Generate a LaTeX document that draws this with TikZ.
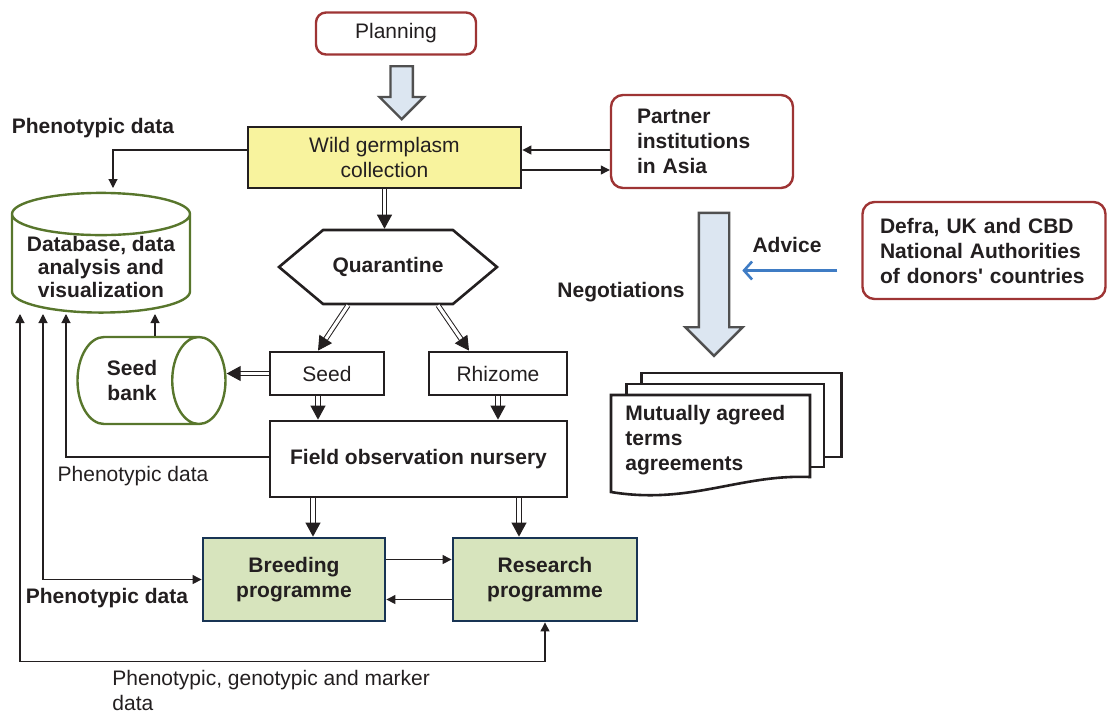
\documentclass[tikz,border=0pt]{standalone}
\usepackage{fontspec}
\setmainfont{Liberation Sans}
\usepackage{xcolor}
\usetikzlibrary{arrows.meta, positioning, calc, shapes.geometric, shapes.symbols, shapes.arrows}

\definecolor{boxred}{RGB}{158,52,52}
\definecolor{wildyellow}{RGB}{248,243,158}
\definecolor{progfill}{RGB}{215,228,189}
\definecolor{progedge}{RGB}{24,52,84}
\definecolor{cylgreen}{RGB}{88,118,44}
\definecolor{blockfill}{RGB}{220,230,241}
\definecolor{blockedge}{RGB}{80,80,80}
\definecolor{advblue}{RGB}{63,124,196}
\definecolor{ink}{RGB}{35,31,32}

\begin{document}
\begin{tikzpicture}[
  x=0.5pt, y=-0.5pt,
  every node/.style={font=\fontsize{10.5}{12.5}\selectfont, text=ink, inner sep=2pt},
  bold/.style={font=\fontsize{10.5}{12.5}\selectfont\bfseries},
  box/.style={draw=ink, line width=1.4pt, align=center},
  redbox/.style={draw=boxred, line width=1.2pt, rounded corners=6pt, fill=white},
  progbox/.style={box, bold, draw=progedge, fill=progfill,
                  minimum width=91pt, minimum height=41.5pt},
  cyl/.style={cylinder, draw=cylgreen, line width=1.2pt, align=center, bold},
  blockarr/.style={single arrow, draw=blockedge, line width=1.2pt, fill=blockfill,
                   single arrow head indent=0pt, rotate=-90, inner xsep=0pt},
  dbl/.style={draw=ink, line width=0.5pt, double=white, double distance=1.6pt,
              -{Triangle[length=7pt,width=7.5pt]}},
  arr/.style={draw=ink, line width=0.55pt, -{Triangle[length=4.5pt,width=4.5pt]}},
  arrboth/.style={draw=ink, line width=0.55pt,
                  {Triangle[length=4.5pt,width=4.5pt]}-{Triangle[length=4.5pt,width=4.5pt]}},
  advarr/.style={draw=advblue, line width=1.3pt, -{Straight Barb[length=4pt,width=9pt]}},
  sheet/.style={draw=ink, line width=1.3pt, fill=white}
]
  \useasboundingbox (0,0) rectangle (1107,714);

  % Collection
  \node (plan)    [redbox, minimum width=80pt, minimum height=21pt, rounded corners=5pt]
                  at (396,33.5) {Planning};
  \node (planarr) [blockarr, minimum height=26.5pt, inner ysep=5pt,
                   single arrow head extend=5.5pt, anchor=tail] at (401.7,65) {};
  \node (wild)    [box, fill=wildyellow, minimum width=136.5pt, minimum height=30.5pt]
                  at (384.5,157.5) {Wild germplasm\\collection};
  \node (partner) [redbox, bold, align=left, text width=65pt, inner xsep=13pt,
                   minimum height=46.5pt] at (702,141.5) {Partner\\institutions\\in Asia};

  % Quarantine and material
  \node (quar)  [signal, signal to=west and east, signal pointer angle=80, draw=ink,
                 line width=1.3pt, bold, minimum width=109pt, minimum height=37pt]
                at (388,267) {Quarantine};
  \node (seed)  [box, minimum width=57pt, minimum height=21.5pt] at (327,373.5) {Seed};
  \node (rhiz)  [box, minimum width=69pt, minimum height=21.5pt] at (498,373.5) {Rhizome};
  \node (field) [box, bold, minimum width=148.5pt, minimum height=38pt]
                at (418.5,459) {Field observation nursery};

  % Programmes
  \node (breed) [progbox] at (294,579.5) {Breeding\\programme};
  \node (res)   [progbox, minimum width=92pt] at (545,579.5) {Research\\programme};

  % Storage
  \node (db)   [cyl, shape border rotate=90, aspect=0.27, minimum width=89pt,
                minimum height=48pt, inner ysep=0pt,
                font=\fontsize{10.5}{11.5}\selectfont\bfseries]
               at (101,267) {Database, data\\analysis and\\visualization};
  \node (bank) [cyl, aspect=1.1, minimum width=43.5pt, minimum height=74pt]
               at (132,380.5) {Seed\\bank};

  % Data labels
  \node (phtop) [bold] at (93,128) {Phenotypic data};
  \node (phmid) at (133,476) {Phenotypic data};
  \node (phbot) [bold] at (107,598) {Phenotypic data};
  \node (phall) [align=left, anchor=west] at (108,690)
                {Phenotypic, genotypic and marker\\data};

  % Negotiations
  \node (negarr) [blockarr, minimum height=71.5pt, inner ysep=7pt,
                  single arrow head extend=6.75pt, anchor=tail] at (714,211.7) {};
  \node (neg)   [bold] at (621,292) {Negotiations};
  \node (adv)   [bold] at (787,245) {Advice};
  \node (defra) [redbox, bold, align=left, text width=104pt, inner xsep=8.75pt,
                 minimum height=48.5pt] at (984,250.5)
                {Defra, UK and CBD\\National Authorities\\of donors\textquotesingle{} countries};

  % Agreements
  \draw[sheet] (641.7,373) rectangle (841.7,457);
  \draw[sheet] (626.7,384) rectangle (824,467);
  \draw[sheet] (611,395) -- (810,395) -- (810,477)
        .. controls (740,474) and (690,505) .. (611,492) -- cycle;
  \node (mat) [bold, align=left, anchor=north west, inner sep=0pt] at (625,405)
              {Mutually agreed\\terms\\agreements};

  % Material flow
  \coordinate (sf) at ($(seed.south)+(-9,0)$);
  \coordinate (fb) at ($(breed.north)+(19,0)$);
  \coordinate (fr) at ($(res.north)+(-26,0)$);
  \draw[dbl] (wild.south) -- (wild.south |- quar.north);
  \draw[dbl] ($(quar.south)+(-40,0)$) -- ($(seed.north)+(-9,0)$);
  \draw[dbl] ($(quar.south)+(50,0)$) -- ($(rhiz.north)+(-29,0)$);
  \draw[dbl] (seed.west) -- (seed.west -| bank.east);
  \draw[dbl] (sf) -- (sf |- field.north);
  \draw[dbl] (rhiz.south) -- (rhiz.south |- field.north);
  \draw[dbl] (fb |- field.south) -- (fb);
  \draw[dbl] (fr |- field.south) -- (fr);
  \draw[arr] ($(breed.east)+(0,-20)$) -- ($(res.west)+(0,-20)$);
  \draw[arr] ($(res.west)+(0,20)$) -- ($(breed.east)+(0,20)$);

  % Partners
  \coordinate (wp) at ($(wild.east)+(0,-7.5)$);
  \coordinate (wq) at ($(wild.east)+(0,12.5)$);
  \draw[arr] (wp -| partner.west) -- (wp);
  \draw[arr] (wq) -- (wq -| partner.west);

  % Data flow
  \coordinate (in1) at (20,314);
  \coordinate (in2) at (43,314);
  \coordinate (in3) at (66,314);
  \coordinate (bk)  at (bank.north -| 155,0);
  \draw[arr] ($(wild.west)+(0,-7.5)$) -| (113,188);
  \draw[arr] (bk) -- (bk |- in1);
  \draw[arr] ($(field.west)+(0,-2)$) -| (in3);
  \draw[arrboth] (in2) |- (breed.west);
  \draw[arrboth] (in1) |- ($(res.south)+(0,39)$) -- (res.south);

  % Advice
  \coordinate (advend) at ($(defra.west)+(-119,20)$);
  \draw[advarr] ($(defra.west)+(-24,20)$) -- (advend);
\end{tikzpicture}
\end{document}
